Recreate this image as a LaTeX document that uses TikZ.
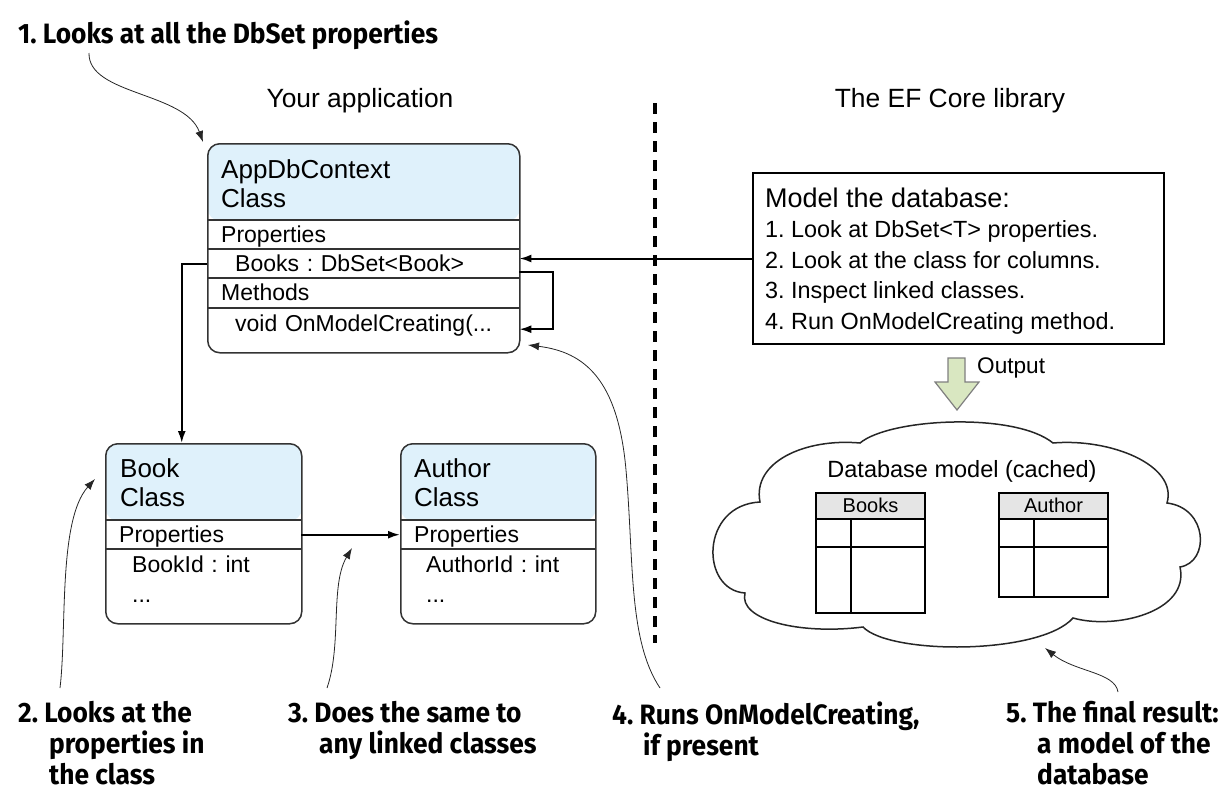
\documentclass[tikz,border=0pt]{standalone}
\usepackage{fontspec}
\setmainfont{Liberation Sans}
\newfontfamily\callfont[FakeStretch=0.94]{Fira Sans}
\usetikzlibrary{arrows.meta,calc}
\definecolor{hdrblue}{HTML}{DFF1FB}
\definecolor{tblgray}{HTML}{E5E5E5}
\definecolor{outgreen}{HTML}{D9E7C1}
\definecolor{outline}{HTML}{7F7F7F}
\definecolor{boxline}{HTML}{333333}
\frenchspacing
\tikzset{
  cbox/.style={draw=boxline, line width=1.5pt, rounded corners=12pt, anchor=north west, inner sep=0pt,
    path picture={\fill[hdrblue] (path picture bounding box.north west) rectangle ([yshift=-77pt]path picture bounding box.north east);}},
  hdrtext/.style={anchor=north west, inner sep=0pt, align=left, font=\fontsize{26}{29.5}\selectfont},
  row/.style={anchor=north west, minimum width=#1, text width={#1-28pt}, inner xsep=14pt, inner ysep=0pt,
    minimum height=29pt, align=left, text height=16.5pt, text depth=0pt, font=\fontsize{23}{27}\selectfont},
  sep/.style={draw=boxline, line width=1.5pt},
  conn/.style={line width=2pt, -{Latex[length=12pt,width=8pt]}},
  callarrow/.style={line width=0.8pt, draw=black!85, -{Latex[length=11pt,width=8pt]}},
  callout/.style={inner sep=0pt, align=left, font=\callfont\bfseries\fontsize{28}{31}\selectfont},
  tbl/.style={draw, line width=2pt, anchor=north west, inner sep=0pt,
    path picture={\fill[tblgray] (path picture bounding box.north west) rectangle ([yshift=-27pt]path picture bounding box.north east);}},
  tline/.style={line width=2pt},
  plain/.style={inner sep=0pt, font=\fontsize{23.5}{28}\selectfont},
}
\newcommand\cind{\hspace*{31pt}}
\begin{document}
\begin{tikzpicture}[x=1pt,y=-1pt]
\useasboundingbox (0,0) rectangle (1231,809);

% section titles
\node[plain, anchor=base, font=\fontsize{26.4}{30}\selectfont] (yourapp) at (360,107) {Your application};
\node[plain, anchor=base, font=\fontsize{26.4}{30}\selectfont] (efcore) at (950,107) {The EF Core library};
\draw[line width=4pt, dash pattern=on 11pt off 8pt] (655,103) -- (655,643);

% AppDbContext class
\node[cbox, minimum width=312pt, minimum height=209pt] (app) at (207,143) {};
\node[hdrtext] (apph) at (221,159.3) {AppDbContext\\Class};
\node[row=312pt] (appP) at (207,220) {Properties};
\node[row=312pt] (appB) at (207,249) {\hspace*{14pt}Books : DbSet<Book>};
\node[row=312pt] (appM) at (207,278) {Methods};
\node[row=312pt, minimum height=30pt] (appV) at (207,308) {\hspace*{14pt}void OnModelCreating(...};
\foreach \r in {appP,appB,appM,appV} \draw[sep] (\r.north west) -- (\r.north east);

% Book class
\node[cbox, minimum width=196pt, minimum height=180pt] (book) at (105,443) {};
\node[hdrtext] (bookh) at (120,458.3) {Book\\Class};
\node[row=196pt] (bookP) at (105,520) {Properties};
\node[row=196pt, minimum height=30pt] (bookI) at (105,549) {\hspace*{13pt}BookId : int};
\node[row=196pt, minimum height=30pt] (bookD) at (105,579) {\hspace*{13pt}...};
\foreach \r in {bookP,bookI} \draw[sep] (\r.north west) -- (\r.north east);

% Author class
\node[cbox, minimum width=195pt, minimum height=180pt] (auth) at (400,443) {};
\node[hdrtext] (authh) at (414,458.3) {Author\\Class};
\node[row=195pt] (authP) at (400,520) {Properties};
\node[row=195pt, minimum height=30pt] (authI) at (400,549) {\hspace*{12pt}AuthorId : int};
\node[row=195pt, minimum height=30pt] (authD) at (400,579) {\hspace*{12pt}...};
\foreach \r in {authP,authI} \draw[sep] (\r.north west) -- (\r.north east);

% Model box
\node[draw, line width=2pt, anchor=north west, minimum width=411pt, minimum height=171pt, inner sep=0pt] (model) at (752,172) {};
\node[anchor=north west, inner sep=0pt, align=left, font=\fontsize{23.4}{30.5}\selectfont] (modelt) at (765,187.5)
  {{\fontsize{27}{31}\selectfont Model the database:}\\[0pt]
   1. Look at DbSet<T> properties.\\
   2. Look at the class for columns.\\
   3. Inspect linked classes.\\
   4. Run OnModelCreating method.};

% connectors
\draw[conn] (model.west) -- (model.west -| appB.east);
\draw[conn] ([yshift=-8.5pt]appB.east) -- ++(34,0) |- ([yshift=-6pt]appV.east);
\draw[conn] (appB.west) -| ([xshift=-22pt]book.north);
\draw[conn] (bookP.east) -- (authP.west);

% output arrow
\draw[draw=outline, fill=outgreen, line width=1.2pt, line join=miter]
  (948,358) -- (965,358) -- (965,382) -- (979,382) -- (957,410) -- (935,382) -- (948,382) -- cycle;
\node[plain, anchor=base west, font=\fontsize{22.6}{26}\selectfont] (outlbl) at (977,373) {Output};

% cloud
\draw[line width=1.5pt, draw=black!85]
  (760,502) .. controls (752,462) and (805,438) .. (860,443)
  .. controls (890,418) and (1015,412) .. (1053,443)
  .. controls (1110,438) and (1178,465) .. (1167,503)
  .. controls (1208,508) and (1210,562) .. (1180,567)
  .. controls (1190,612) and (1115,630) .. (1073,618)
  .. controls (1040,655) and (890,655) .. (863,627)
  .. controls (800,635) and (738,620) .. (745,593)
  .. controls (700,590) and (700,505) .. (760,502) -- cycle;
\node[plain, anchor=base] (dbmodel) at (962,477) {Database model (cached)};

% tables
\node[tbl, minimum width=109pt, minimum height=120pt] (tbooks) at (815,492) {};
\node[plain, font=\fontsize{20}{24}\selectfont] (tbooksh) at ($(tbooks.north)+(0,13.5)$) {Books};
\draw[tline] ([yshift=-27pt]tbooks.north west) -- ([yshift=-27pt]tbooks.north east);
\draw[tline] ([yshift=-55pt]tbooks.north west) -- ([yshift=-55pt]tbooks.north east);
\draw[tline] ([shift={(36pt,-27pt)}]tbooks.north west) -- ([xshift=36pt]tbooks.south west);

\node[tbl, minimum width=109pt, minimum height=104pt] (tauth) at (998,492) {};
\node[plain, font=\fontsize{20}{24}\selectfont] (tauthh) at ($(tauth.north)+(0,13.5)$) {Author};
\draw[tline] ([yshift=-27pt]tauth.north west) -- ([yshift=-27pt]tauth.north east);
\draw[tline] ([yshift=-55pt]tauth.north west) -- ([yshift=-55pt]tauth.north east);
\draw[tline] ([shift={(36pt,-27pt)}]tauth.north west) -- ([xshift=36pt]tauth.south west);

% callouts
\node[callout, anchor=base west] (c1) at (18,43) {1. Looks at all the DbSet properties};
\node[callout, anchor=north west] (c2) at (18,701.5) {2. Looks at the\\\cind properties in\\\cind the class};
\node[callout, anchor=north west] (c3) at (288,701.5) {3. Does the same to\\\cind any linked classes};
\node[callout, anchor=north west] (c4) at (612,701.5) {4. Runs OnModelCreating,\\\cind if present};
\node[callout, anchor=north west] (c5) at (1006,701.5) {5. The final result:\\\cind a model of the\\\cind database};

\coordinate (c1s) at (89,53);  \coordinate (c1e) at (203,142);
\coordinate (c2s) at (60,688); \coordinate (c2e) at (95,479);
\coordinate (c3s) at (327,688); \coordinate (c3e) at (352,548);
\coordinate (c4s) at (660,688); \coordinate (c4e) at (528,345);
\coordinate (c5s) at (1118,692); \coordinate (c5e) at (1045,648);
\draw[callarrow] (c1s) .. controls (88,95) and (185,92) .. (c1e);
\draw[callarrow] (c2s) .. controls (67,630) and (58,520) .. (c2e);
\draw[callarrow] (c3s) .. controls (342,645) and (330,585) .. (c3e);
\draw[callarrow] (c4s) .. controls (628,640) and (634,560) .. (626,470) .. controls (618,380) and (585,352) .. (c4e);
\draw[callarrow] (c5s) .. controls (1115,672) and (1075,672) .. (c5e);
\end{tikzpicture}
\end{document}
